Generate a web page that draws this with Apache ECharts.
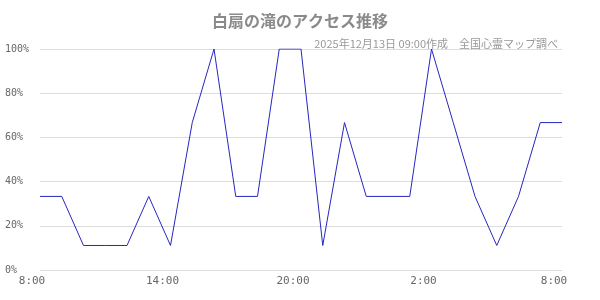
<!DOCTYPE html>
<html><head><meta charset="utf-8">
<script src="https://cdn.jsdelivr.net/npm/echarts@6/dist/echarts.min.js"></script>
<style>html,body{margin:0;padding:0;background:#fff}#c{width:600px;height:300px}</style>
</head><body><div id="c"></div>
<script>
const titleText = '白扇の滝のアクセス推移';
const subtitleText = '2025年12月13日 09:00作成　全国心霊マップ調べ';
const hours = ['8:00','9:00','10:00','11:00','12:00','13:00','14:00','15:00','16:00','17:00','18:00','19:00','20:00','21:00','22:00','23:00','0:00','1:00','2:00','3:00','4:00','5:00','6:00','7:00','8:00'];
const access = [33.3,33.3,11.1,11.1,11.1,33.3,11.1,66.7,100,33.3,33.3,100,100,11.1,66.7,33.3,33.3,33.3,100,66.7,33.3,11.1,33.3,66.7,66.7];
const yTicks = [0,20,40,60,80,100];

const chart = echarts.init(document.getElementById('c'), null, {renderer:'canvas'});
chart.setOption({
  animation:false,
  title:[
    {text:titleText, left:'center', top:8, textStyle:{fontFamily:'Noto Sans CJK JP', fontSize:16, fontWeight:'bold', color:'#8a8a8a'}},
    {text:subtitleText, right:37, top:33, textStyle:{fontFamily:'Noto Sans CJK JP', fontSize:11, fontWeight:'normal', color:'#999'}}
  ],
  grid:{left:40, right:38, top:49, bottom:30},
  xAxis:{
    type:'category', data:hours, boundaryGap:false,
    axisLine:{show:false}, axisTick:{show:false},
    axisLabel:{interval:5, color:'#666', fontFamily:'DejaVu Sans Mono', fontSize:11, margin:6, padding:[0,16,0,0]}
  },
  yAxis:{
    type:'value', min:0, max:100, interval:20,
    axisLine:{show:false}, axisTick:{show:false},
    splitLine:{lineStyle:{color:'#ddd', width:1}},
    axisLabel:{formatter:v=>yTicks.includes(v)?v+'%':'', color:'#666', fontFamily:'DejaVu Sans Mono', fontSize:10, align:'left', margin:35}
  },
  series:[{type:'line', data:access, symbol:'none', lineStyle:{color:'#2626c0', width:1}}]
});
</script></body></html>
